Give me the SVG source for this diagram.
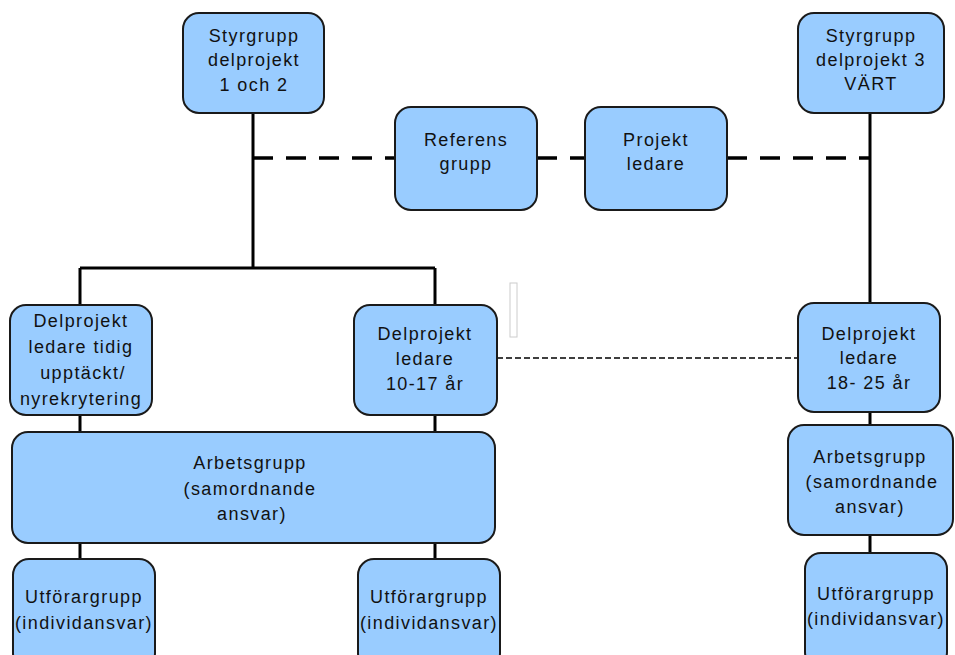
<svg xmlns="http://www.w3.org/2000/svg" width="955" height="655" viewBox="0 0 955 655">
<style>
.box{fill:#99ccff;stroke:#1a1a1a;stroke-width:2}
.t{font-family:"Liberation Sans",Arial,sans-serif;font-size:18px;fill:#111;text-anchor:middle;letter-spacing:1.4px}
.ln{stroke:#000;stroke-width:3;fill:none}
.dash{stroke:#000;stroke-width:3.5;fill:none;stroke-dasharray:20 13}
.dot{stroke:#000;stroke-width:1.5;fill:none;stroke-dasharray:6 3}
</style>
<rect width="955" height="655" fill="#fff"/>
<g id="connectors">
<path class="ln" d="M253 113V268M80 268H435M80 268V306M435 268V306M80 414V433M435 414V433M80 542V560M435 542V560"/>
<path class="ln" d="M870 113V304M870 411V426M870 535V554"/>
<path class="dash" d="M253 158H395M537 158H585M727 158H870"/>
<path class="dot" d="M497 358H798"/>
</g>
<rect x="510" y="283" width="7" height="54" fill="#fff" stroke="#ccc" stroke-width="1"/>
<g id="styrgrupp12"><rect class="box" x="183" y="13" width="141" height="100" rx="16"/>
<text class="t" x="254" y="42">Styrgrupp</text><text class="t" x="254" y="66">delprojekt</text><text class="t" x="254" y="91">1 och 2</text></g>
<g id="referens"><rect class="box" x="395" y="107" width="142" height="103" rx="16"/>
<text class="t" x="466" y="146">Referens</text><text class="t" x="466" y="170">grupp</text></g>
<g id="projektledare"><rect class="box" x="585" y="107" width="142" height="103" rx="16"/>
<text class="t" x="656" y="146">Projekt</text><text class="t" x="656" y="170">ledare</text></g>
<g id="styrgrupp3"><rect class="box" x="798" y="13" width="146" height="100" rx="16"/>
<text class="t" x="871" y="42">Styrgrupp</text><text class="t" x="871" y="66">delprojekt 3</text><text class="t" x="871" y="90">VÄRT</text></g>
<g id="dp-tidig"><rect class="box" x="10" y="305" width="142" height="110" rx="16"/>
<text class="t" x="81" y="327">Delprojekt</text><text class="t" x="81" y="353">ledare tidig</text><text class="t" x="83" y="379">upptäckt/</text><text class="t" x="81" y="405">nyrekrytering</text></g>
<g id="dp-1017"><rect class="box" x="354" y="305" width="143" height="110" rx="16"/>
<text class="t" x="425" y="340">Delprojekt</text><text class="t" x="425" y="365">ledare</text><text class="t" x="425" y="390">10-17 år</text></g>
<g id="dp-1825"><rect class="box" x="798" y="303" width="142" height="109" rx="16"/>
<text class="t" x="869" y="340">Delprojekt</text><text class="t" x="869" y="364">ledare</text><text class="t" x="869" y="389">18- 25 år</text></g>
<g id="arbetsgrupp1"><rect class="box" x="12" y="432" width="483" height="111" rx="16"/>
<text class="t" x="250" y="469">Arbetsgrupp</text><text class="t" x="250" y="495">(samordnande</text><text class="t" x="252" y="520">ansvar)</text></g>
<g id="arbetsgrupp2"><rect class="box" x="788" y="425" width="165" height="110" rx="16"/>
<text class="t" x="870" y="463">Arbetsgrupp</text><text class="t" x="872" y="488">(samordnande</text><text class="t" x="870" y="513">ansvar)</text></g>
<g id="utforar1"><rect class="box" x="13" y="559" width="142" height="110" rx="16"/>
<text class="t" x="84" y="603">Utförargrupp</text><text class="t" x="84" y="629">(individansvar)</text></g>
<g id="utforar2"><rect class="box" x="358" y="559" width="142" height="110" rx="16"/>
<text class="t" x="429" y="603">Utförargrupp</text><text class="t" x="429" y="629">(individansvar)</text></g>
<g id="utforar3"><rect class="box" x="805" y="553" width="142" height="115" rx="16"/>
<text class="t" x="876" y="600">Utförargrupp</text><text class="t" x="876" y="625">(individansvar)</text></g>
</svg>
